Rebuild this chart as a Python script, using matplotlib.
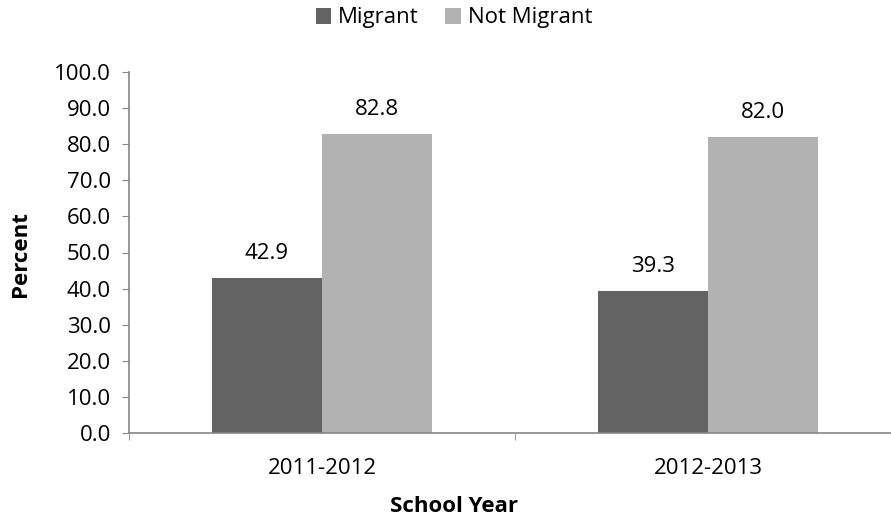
import matplotlib.pyplot as plt
import numpy as np
from matplotlib.ticker import FormatStrFormatter, FixedLocator

# --- Data ---
years = ["2011-2012", "2012-2013"]
migrant = [42.9, 39.3]
not_migrant = [82.8, 82.0]

plt.rcParams["font.family"] = ["Open Sans", "DejaVu Sans"]
FS = 16
GRAY_AX = "#868686"

fig = plt.figure(figsize=(8.91, 5.19), dpi=100)
# axis runs off the right edge of the picture, as in the source
ax = fig.add_axes([129/891, 1 - 433/519, (901 - 129)/891, (433 - 72)/519])

x = np.arange(len(years))
w = 0.285
b1 = ax.bar(x - w/2, migrant, w, color="#636363", label="Migrant")
b2 = ax.bar(x + w/2, not_migrant, w, color="#b2b2b2", label="Not Migrant")

for bars in (b1, b2):
    for r in bars:
        ax.annotate(f"{r.get_height():.1f}", (r.get_x() + r.get_width()/2, r.get_height()),
                    xytext=(0, 10), textcoords="offset points",
                    ha="center", va="bottom", fontsize=FS)

ax.set_xlim(-0.5, len(years) - 0.5)
ax.set_ylim(0, 100)
ax.set_yticks(np.arange(0, 101, 10))
ax.yaxis.set_major_formatter(FormatStrFormatter("%.1f"))
ax.set_xticks(x)
ax.set_xticklabels(years)
ax.xaxis.set_minor_locator(FixedLocator(np.arange(-0.5, len(years), 1.0)))
ax.tick_params(axis="x", which="major", length=0, labelsize=FS, pad=18)
ax.tick_params(axis="x", which="minor", length=5, color=GRAY_AX, direction="out")
ax.tick_params(axis="y", length=5, color=GRAY_AX, labelsize=FS, pad=8)

for s in ("top", "right"):
    ax.spines[s].set_visible(False)
for s in ("left", "bottom"):
    ax.spines[s].set_color(GRAY_AX)
    ax.spines[s].set_linewidth(1.2)

fig.text(20/891, 1 - 254/519, "Percent", fontsize=FS, fontweight="bold",
         rotation=90, ha="center", va="center")
fig.text(454/891, 1 - 507/519, "School Year", fontsize=FS, fontweight="bold",
         ha="center", va="center")

fig.legend(loc="center", bbox_to_anchor=(454/891, 1 - 18/519), ncol=2,
           frameon=False, fontsize=FS, handlelength=0.7, handleheight=0.7,
           handletextpad=0.3, columnspacing=1.2, borderaxespad=0)

fig.savefig("out.png", dpi=100)
